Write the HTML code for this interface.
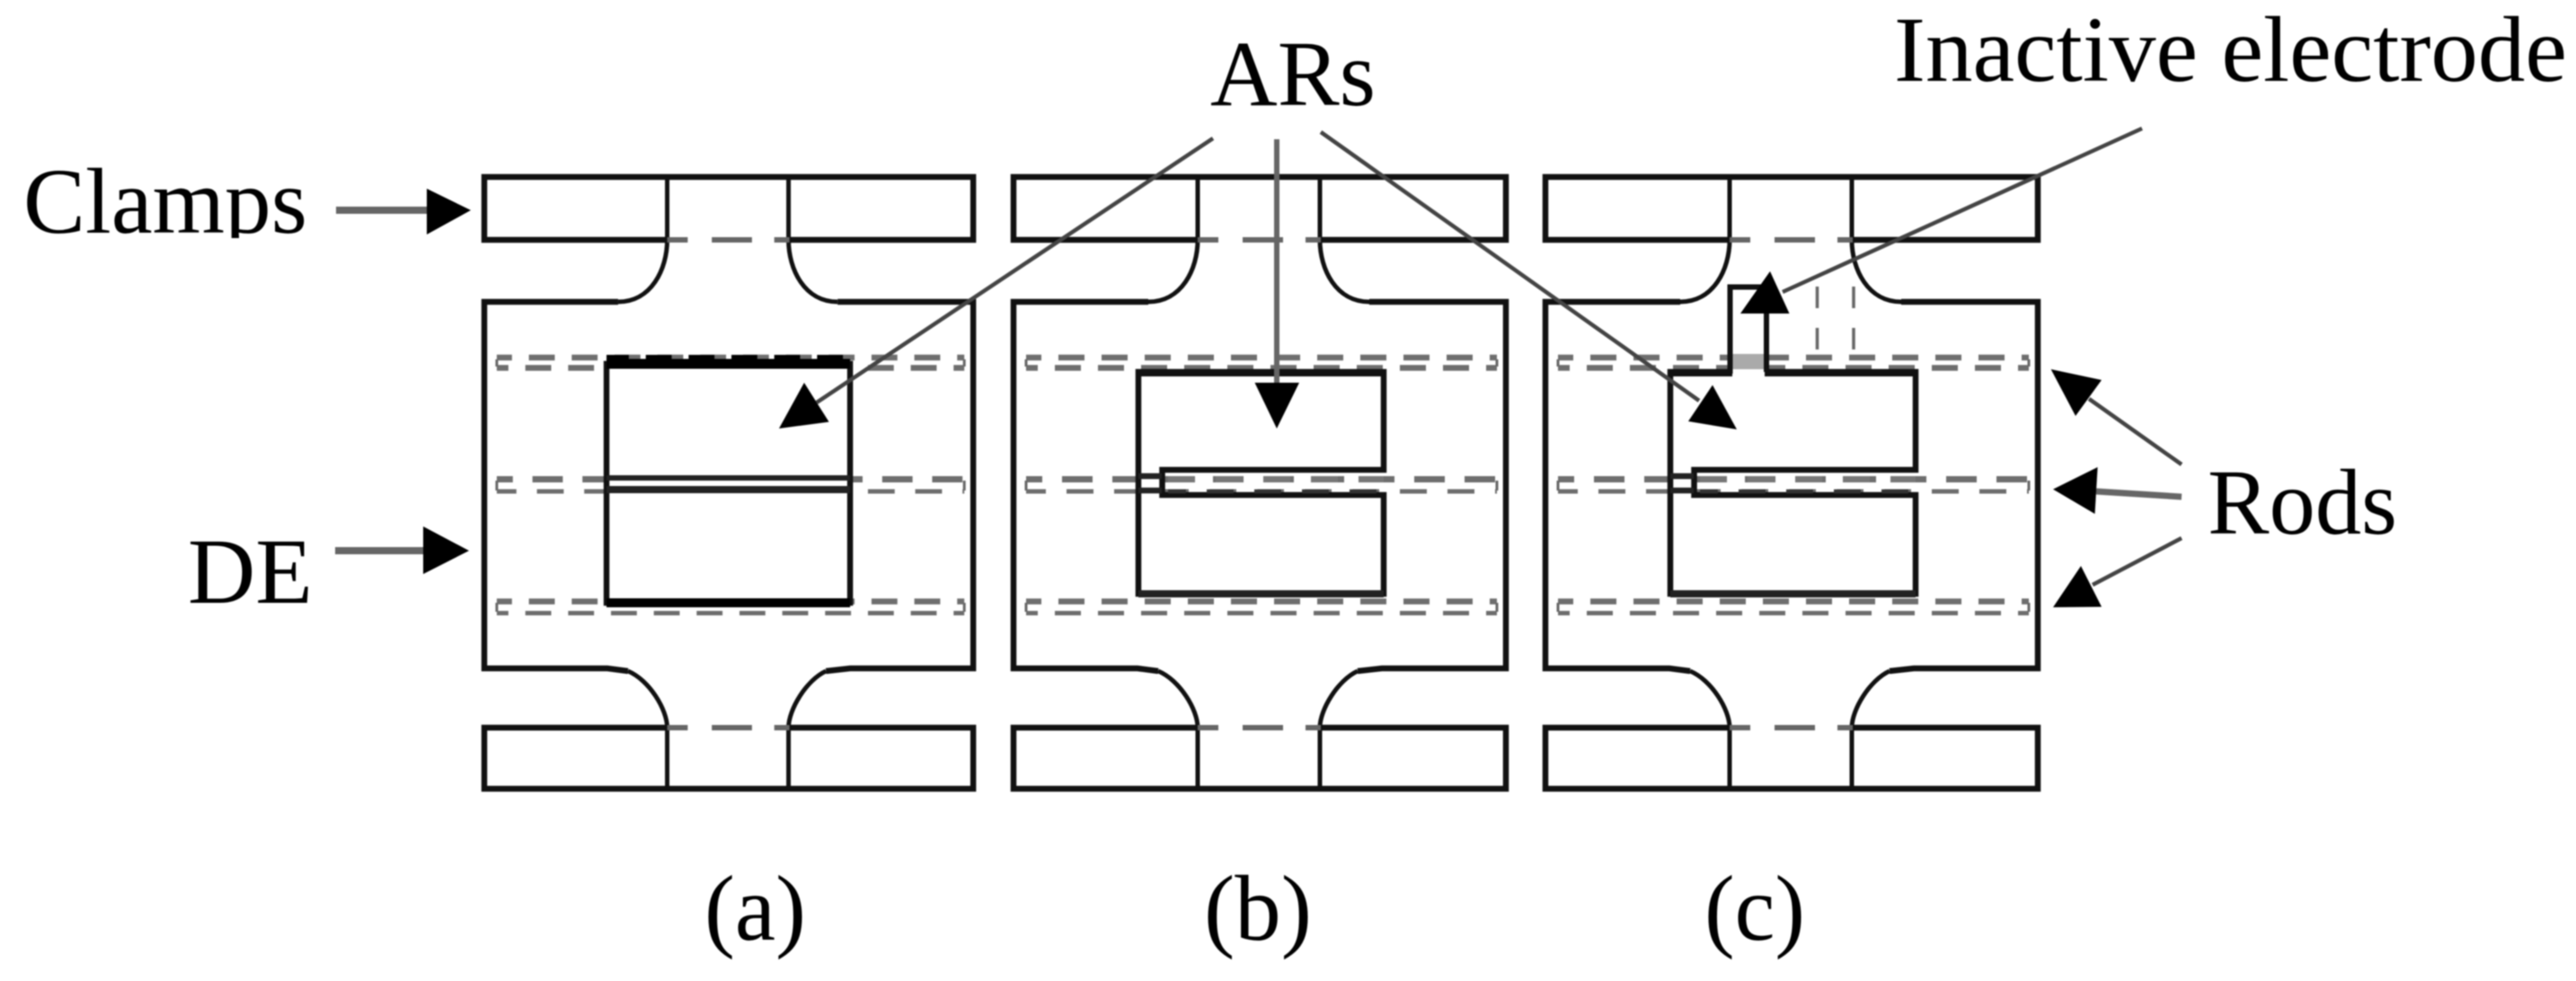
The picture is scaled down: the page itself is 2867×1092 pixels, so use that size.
<!DOCTYPE html>
<html><head><meta charset="utf-8"><title>Diagram</title>
<style>
html,body{margin:0;padding:0;background:#fff;width:2867px;height:1092px;overflow:hidden}
svg{display:block;filter:blur(0.9px)}
text{font-family:"Liberation Serif",serif;fill:#000;font-size:104px}
.o{fill:none;stroke:#111;stroke-width:6.5}
.n{fill:none;stroke:#111;stroke-width:5}
.d{fill:none;stroke:#6e6e6e;stroke-width:6.5;stroke-dasharray:29 19}
.l{stroke:#444;stroke-width:4.5;fill:none}
.g{stroke:#666;stroke-width:6;fill:none}
</style></head>
<body>
<svg width="2867" height="1092" viewBox="0 0 2867 1092" xmlns="http://www.w3.org/2000/svg">
<defs>
<g id="base">
  <path class="o" d="M205 267H0V197H548V267H341"/>
  <path class="o" d="M205 810H0V878H548V810H341"/>
  <path class="o" d="M150 336H0V744H138L161 747"/>
  <path class="o" d="M396 336H548V744H410L383 747"/>
  <path class="n" d="M205 197V267C205 300 187 336 150 336"/>
  <path class="n" d="M341 197V267C341 300 359 336 396 336"/>
  <path class="n" d="M161 747C185 757 205 790 205 810V878"/>
  <path class="n" d="M383 747C361 757 341 790 341 810V878"/>
  <path class="g" d="M205 267H228M255 267H300M325 267H342M205 810H228M255 810H300M325 810H342"/>
  <path class="d" d="M14 398H538" stroke-dashoffset="12"/>
  <path class="d" d="M14 409.5H538" stroke-dashoffset="16"/>
  <path class="d" d="M14 533.5H538" style="stroke-dasharray:34 22;stroke-width:7" stroke-dashoffset="16"/>
  <path class="d" d="M14 547H538" style="stroke-dasharray:30 23;stroke-width:5" stroke-dashoffset="8"/>
  <path class="d" d="M14 669.5H538" stroke-dashoffset="12"/>
  <path class="d" d="M14 682.5H538" style="stroke-width:5" stroke-dashoffset="16"/>
  <path d="M14 400V408M538 400V408M14 671V681M538 671V681M14 535V546M538 535V546" stroke="#666" stroke-width="3" fill="none"/>
</g>
<g id="slotted">
  <path d="M139 414H412V523H165.5V551H412V661H139Z" fill="#fff" stroke="#111" stroke-width="6.5"/>
  <path d="M139 530H165M139 546H165" stroke="#222" stroke-width="6.5" fill="none"/>
  <path d="M139 415H412" stroke="#111" stroke-width="8"/>
  <path d="M139 661H412" stroke="#222" stroke-width="8"/>
  <path d="M172 533.5H412" stroke="#777" stroke-width="7" stroke-dasharray="30 23" fill="none"/>
  <path d="M172 547H412" stroke="#333" stroke-width="4.5" stroke-dasharray="30 23" stroke-dashoffset="10" fill="none"/>
</g>
</defs>

<!-- panel a -->
<g transform="translate(539 0) scale(.993 1)">
  <use href="#base"/>
  <rect x="137" y="405" width="273" height="266" fill="#fff" stroke="#111" stroke-width="6.5"/>
  <path d="M137 405H410" stroke="#000" stroke-width="11"/>
  <path d="M137 398H410" stroke="#000" stroke-width="6" stroke-dasharray="29 19" stroke-dashoffset="4" fill="none"/>
  <path d="M137 671H410" stroke="#000" stroke-width="10"/>
  <path d="M137 532H410" stroke="#222" stroke-width="6"/>
  <path d="M137 545H410" stroke="#222" stroke-width="8"/>
</g>
<!-- panel b -->
<g transform="translate(1128 0)">
  <use href="#base"/>
  <use href="#slotted"/>
</g>
<!-- panel c -->
<g transform="translate(1720 0)">
  <use href="#base"/>
  <use href="#slotted"/>
  <rect x="208" y="394" width="36" height="18" fill="#aaa"/>
  <rect x="208" y="411" width="36" height="9" fill="#fff"/>
  <path d="M205.5 416V319.5H246" class="o" style="stroke-width:6"/>
  <path d="M302.5 319V400M343 319V400" stroke="#666" stroke-width="3.5" stroke-dasharray="24 22" fill="none"/>
</g>

<!-- leaders -->
<g class="l">
  <line x1="374" y1="234" x2="477" y2="234" style="stroke-width:8;stroke:#666"/>
  <line x1="373" y1="613" x2="471" y2="613" style="stroke-width:8;stroke:#666"/>
  <line x1="1350" y1="154" x2="909" y2="448"/>
  <line x1="1421" y1="155" x2="1421" y2="427" style="stroke-width:6;stroke:#666"/>
  <line x1="1470" y1="147" x2="1891" y2="446"/>
  <line x1="2384" y1="143" x2="1984" y2="325"/>
  <line x1="2428" y1="517" x2="2325" y2="444"/>
  <line x1="2428" y1="553" x2="2333" y2="547" style="stroke-width:7;stroke:#666"/>
  <line x1="2428" y1="599" x2="2329" y2="651"/>
</g>
<line x1="1966" y1="349" x2="1966" y2="414" stroke="#111" stroke-width="6"/>

<!-- arrowheads -->
<g fill="#000">
  <polygon points="524,234 475,210 475,261"/>
  <polygon points="522,613 471,586 471,639"/>
  <polygon points="867,477 922.6,469.6 895,426"/>
  <polygon points="1421,477 1396.5,426 1446,426"/>
  <polygon points="1933,478 1906,428.6 1879,469"/>
  <polygon points="1970,302 1937,349 1991.5,349"/>
  <polygon points="2282.6,411 2339,423 2310,463"/>
  <polygon points="2285,544.6 2334.6,520 2331.5,572"/>
  <polygon points="2316,630 2285,676 2339,675.5"/>
</g>

<!-- labels -->
<text x="26" y="259" textLength="316" lengthAdjust="spacingAndGlyphs">Clamps</text>
<rect x="20" y="265" width="330" height="30" fill="#fff"/>
<text x="209" y="671" textLength="139" lengthAdjust="spacingAndGlyphs">DE</text>
<text x="1347" y="117" textLength="184" lengthAdjust="spacingAndGlyphs">ARs</text>
<text x="2108" y="90" textLength="749" lengthAdjust="spacingAndGlyphs">Inactive electrode</text>
<text x="2457" y="594" textLength="211" lengthAdjust="spacingAndGlyphs">Rods</text>
<text x="784" y="1046" textLength="113" lengthAdjust="spacingAndGlyphs">(a)</text>
<text x="1340" y="1046" textLength="120" lengthAdjust="spacingAndGlyphs">(b)</text>
<text x="1897" y="1046" textLength="112" lengthAdjust="spacingAndGlyphs">(c)</text>
</svg>
</body></html>
